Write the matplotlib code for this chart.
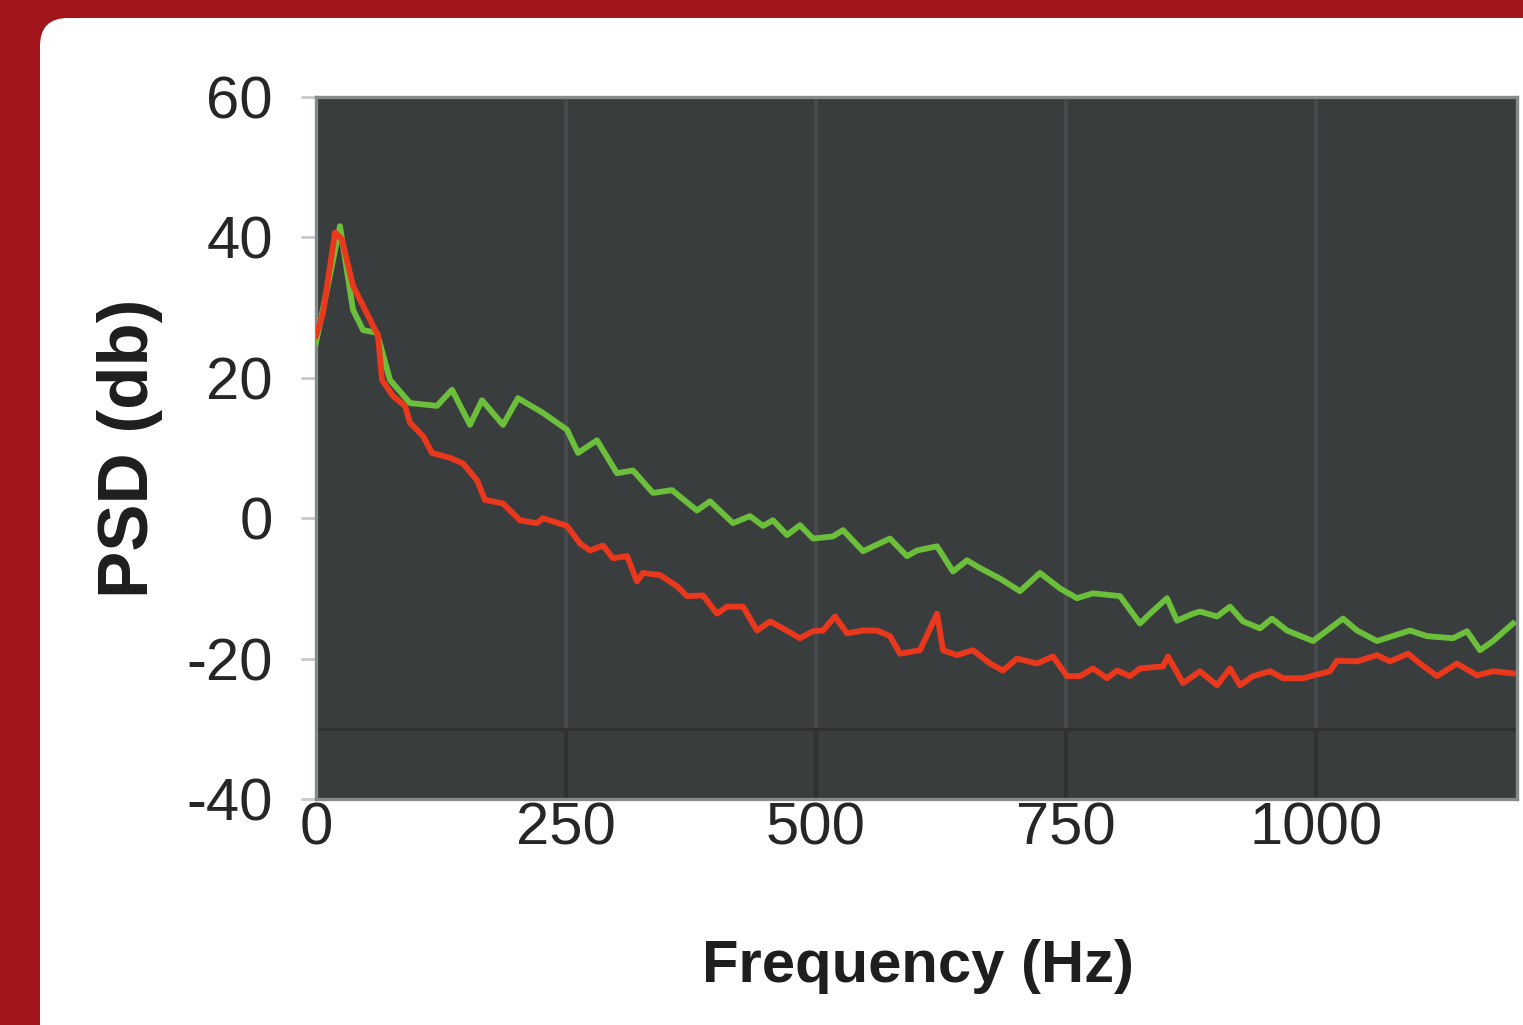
import numpy as np
import matplotlib
matplotlib.use("Agg")
import matplotlib.pyplot as plt
from matplotlib.patches import FancyBboxPatch

# PSD traces (Hz, dB)
green_freq = [0, 24, 37, 47, 61, 74, 94, 121, 136, 154, 166, 187, 202, 227, 251,
              262, 281, 301, 317, 337, 356, 381, 394, 417, 434, 447, 457, 471,
              484, 497, 517, 527, 547, 574, 591, 601, 621, 637, 651, 664, 684,
              704, 724, 744, 761, 777, 804, 824, 834, 851, 861, 877, 884, 901,
              914, 927, 944, 956, 971, 997, 1027, 1041, 1061, 1094, 1111, 1137,
              1151, 1164, 1177, 1197]
green_psd = [25.0, 41.6, 29.7, 26.8, 26.4, 19.7, 16.4, 16.0, 18.3, 13.3, 16.8,
             13.3, 17.1, 15.0, 12.6, 9.3, 11.1, 6.4, 6.8, 3.6, 4.0, 1.1, 2.4,
             -0.7, 0.3, -1.1, -0.3, -2.4, -1.0, -2.9, -2.6, -1.7, -4.7, -2.9,
             -5.4, -4.6, -4.0, -7.6, -6.0, -7.1, -8.6, -10.4, -7.8, -10.0,
             -11.4, -10.7, -11.1, -15.0, -13.6, -11.4, -14.6, -13.6, -13.3,
             -14.0, -12.6, -14.7, -15.7, -14.3, -16.0, -17.5, -14.3, -16.0,
             -17.5, -16.0, -16.8, -17.1, -16.1, -18.8, -17.5, -15.0]

red_freq = [0, 7, 19, 26, 37, 49, 62, 66, 77, 89, 94, 107, 116, 134, 147, 161,
            169, 187, 204, 221, 227, 251, 264, 274, 287, 297, 311, 321, 327, 344,
            361, 371, 387, 401, 411, 427, 441, 454, 467, 484, 497, 507, 519, 531,
            547, 561, 574, 584, 604, 621, 627, 641, 657, 674, 687, 701, 721, 737,
            751, 764, 777, 791, 801, 814, 824, 847, 852, 867, 884, 901, 914, 924,
            937, 954, 967, 987, 1014, 1021, 1041, 1061, 1074, 1092, 1104, 1121,
            1141, 1161, 1177, 1197]
red_psd = [26.0, 29.2, 40.7, 39.7, 33.1, 29.7, 26.0, 19.7, 17.4, 16.0, 13.6,
           11.7, 9.3, 8.6, 7.8, 5.4, 2.6, 2.1, -0.3, -0.7, 0.0, -1.1, -3.6, -4.6,
           -3.9, -5.7, -5.4, -9.0, -7.8, -8.1, -9.7, -11.1, -11.0, -13.6, -12.6,
           -12.6, -16.0, -14.7, -15.7, -17.1, -16.1, -16.0, -14.0, -16.4, -16.0,
           -16.0, -16.8, -19.3, -18.8, -13.6, -18.8, -19.5, -18.8, -20.7, -21.7,
           -20.0, -20.7, -19.7, -22.5, -22.5, -21.4, -22.8, -21.7, -22.5, -21.4,
           -21.1, -19.7, -23.5, -21.8, -23.8, -21.4, -23.8, -22.5, -21.8, -22.8,
           -22.8, -21.8, -20.3, -20.4, -19.5, -20.4, -19.3, -20.7, -22.5, -20.7,
           -22.4, -21.8, -22.1]

x_ticks = [0, 250, 500, 750, 1000]
y_ticks = [60, 40, 20, 0, -20, -40]

plt.rcParams["axes.unicode_minus"] = False

W, H = 1523, 1025
fig = plt.figure(figsize=(W / 100, H / 100), dpi=100)
fig.patch.set_facecolor("#a2161b")

# white rounded panel, drawn in pixel coordinates
bg = fig.add_axes([0, 0, 1, 1], zorder=0)
bg.set_xlim(0, W)
bg.set_ylim(H, 0)
bg.axis("off")
bg.add_patch(FancyBboxPatch((40, 18), W + 100, H + 100,
                            boxstyle="round,pad=0,rounding_size=28",
                            fc="white", ec="none"))

fonts = ["Liberation Sans", "DejaVu Sans"]

ax = fig.add_axes([316 / W, 1 - 799 / H, (1517 - 316) / W, (799 - 97) / H], zorder=1)
ax.set_facecolor("#3a3d3e")
ax.set_xlim(0, 1201)
ax.set_ylim(-40, 60)

# grid: lighter vertical lines above -30, darker below, dark line at -30
ax.vlines(x_ticks[1:], -30, 60, colors="#474a4c", lw=3, zorder=1)
ax.vlines(x_ticks[1:], -40, -30, colors="#2f3133", lw=3, zorder=1)
ax.axhline(-30, color="#2d2f31", lw=2, zorder=1)

ax.plot(green_freq, green_psd, color="#6cbf3a", lw=4.2, zorder=3)
ax.plot(red_freq, red_psd, color="#ea381d", lw=4.2, zorder=4)

for s in ax.spines.values():
    s.set_color("#878a8b")
    s.set_linewidth(2.4)

ax.set_xticks(x_ticks)
ax.set_yticks(y_ticks)
ax.tick_params(axis="y", length=11, width=2, color="#c9c9c9", pad=20,
               labelsize=43, labelcolor="#262626")
ax.tick_params(axis="x", length=0, pad=2, labelsize=43, labelcolor="#262626")
for lab in ax.get_xticklabels() + ax.get_yticklabels():
    lab.set_family(fonts)

fig.text(130 / W, 1 - 448 / H, "PSD (db)", rotation=90, ha="center", va="center",
         fontsize=51, fontweight="bold", color="#1e1e1e", family=fonts)
fig.text(918 / W, 1 - 966 / H, "Frequency (Hz)", ha="center", va="center",
         fontsize=43, fontweight="bold", color="#1e1e1e", family=fonts)

fig.savefig("out.png", dpi=100, facecolor=fig.get_facecolor())
